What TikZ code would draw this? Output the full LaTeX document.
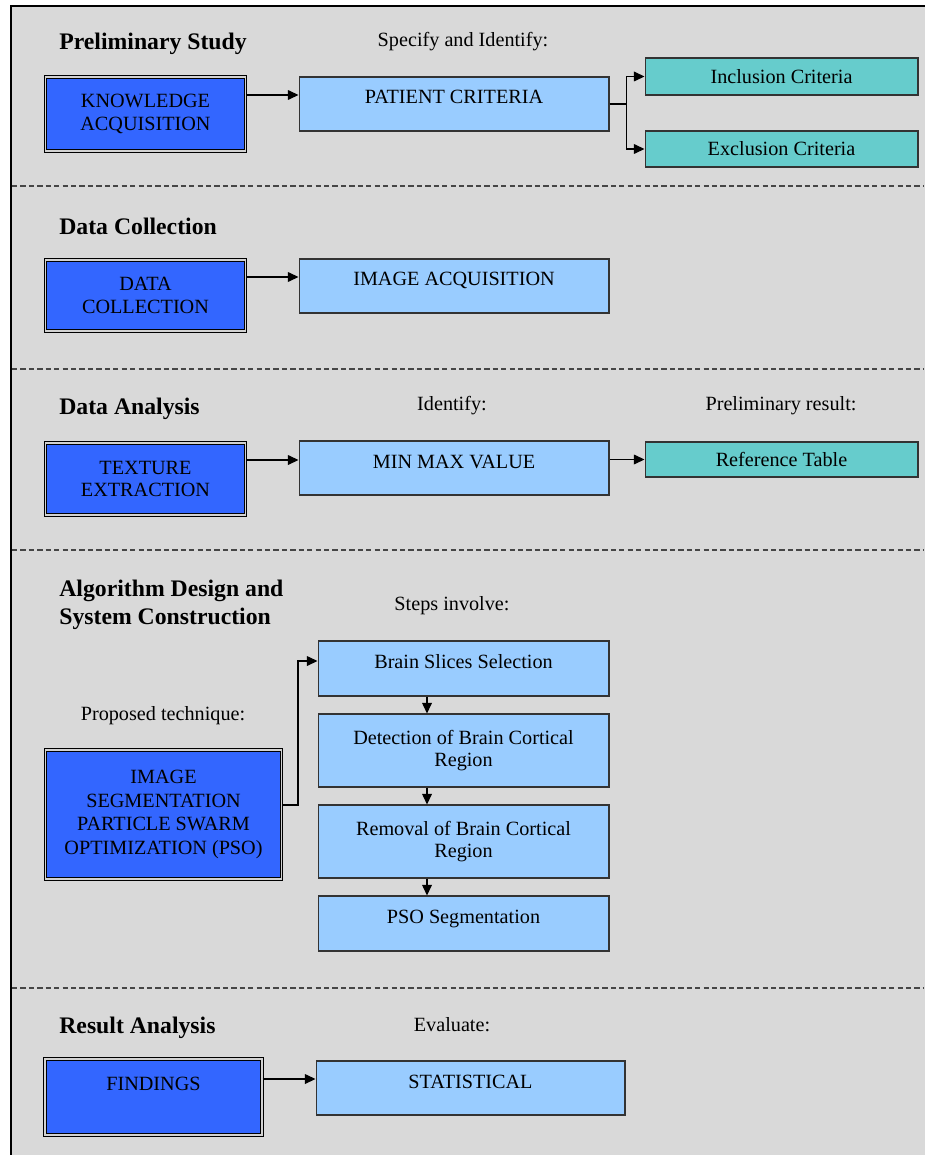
\documentclass[tikz,border=0pt]{standalone}
\usepackage{fontspec}
\setmainfont{Liberation Serif}
\usetikzlibrary{arrows.meta}

\definecolor{panelgrey}{HTML}{D9D9D9}
\definecolor{deepblue}{HTML}{3366FF}
\definecolor{paleblue}{HTML}{99CCFF}
\definecolor{tealbox}{HTML}{66CCCC}

\newcommand{\boxfont}{\fontsize{11.5}{13}\selectfont}
\newcommand{\headfont}{\fontsize{13.5}{16}\selectfont\bfseries}

\tikzset{
  mainbox/.style={draw=black, line width=0.7pt, double=gray!35, double distance=0.8pt,
    fill=deepblue, align=center, font=\boxfont, inner sep=0pt},
  lightbox/.style={draw=black!80, line width=0.6pt, fill=paleblue, align=center,
    font=\boxfont, inner sep=0pt},
  lightone/.style={lightbox, text height=0.54cm, text depth=0.54cm},
  greenbox/.style={draw=black!80, line width=0.6pt, fill=tealbox, font=\boxfont,
    inner sep=0pt, minimum width=5.46cm},
  head/.style={font=\headfont, anchor=west, inner sep=0pt, align=left},
  note/.style={font=\boxfont, inner sep=0pt},
  arr/.style={line width=0.7pt, -{Triangle[length=6pt,width=5.5pt]}},
  sep/.style={gray!55!black, line width=0.9pt, dash pattern=on 3pt off 1.8pt}
}

\begin{document}
\begin{tikzpicture}[x=0.02cm, y=-0.02cm]
  \useasboundingbox (0,0) rectangle (924,1155);
  \fill[panelgrey] (11,6) rectangle (940,1170);
  \draw[line width=1.2pt] (11,1170) -- (11,6) -- (940,6);

  % sections
  \draw[sep] (12,186) -- (924,186);
  \draw[sep] (12,369) -- (924,369);
  \draw[sep] (12,550) -- (924,550);
  \draw[sep] (12,988) -- (924,988);

  % preliminary study
  \node[head] (prelimhead) at (59,44) {Preliminary Study};
  \node[note] (specify) at (463,42) {Specify and Identify:};
  \node[mainbox, minimum width=4.0cm, minimum height=1.48cm] (know) at (145.5,114) {KNOWLEDGE\\ACQUISITION};
  \node[lightone, minimum width=6.2cm] (patient) at (454,104) {PATIENT CRITERIA};
  \node[greenbox, minimum height=0.74cm] (incl) at (781.5,76.5) {Inclusion Criteria};
  \node[greenbox, minimum height=0.72cm] (excl) at (781.5,149) {Exclusion Criteria};
  \draw[arr] ([yshift=0.38cm]know.east) coordinate (k1) -- (k1 -| patient.west);
  \draw[line width=0.7pt] (patient.east) -- ++(17,0) coordinate (fork);
  \draw[arr] (fork) |- (incl.west);
  \draw[arr] (fork) |- (excl.west);

  % data collection
  \node[head] (collhead) at (59,226) {Data Collection};
  \node[mainbox, minimum width=4.0cm, minimum height=1.42cm] (dcoll) at (145.5,295.5) {DATA\\COLLECTION};
  \node[lightone, minimum width=6.2cm] (imgacq) at (454,286) {IMAGE ACQUISITION};
  \draw[arr] ([yshift=0.37cm]dcoll.east) coordinate (k2) -- (k2 -| imgacq.west);

  % data analysis
  \node[head] (analhead) at (59,409) {Data Analysis};
  \node[note] (identify) at (452,406) {Identify:};
  \node[note] (prelres) at (781,406) {Preliminary result:};
  \node[mainbox, minimum width=4.0cm, minimum height=1.44cm] (texture) at (145.5,479) {TEXTURE\\EXTRACTION};
  \node[lightone, minimum width=6.2cm] (minmax) at (454,468) {MIN MAX VALUE};
  \node[greenbox, minimum height=0.70cm] (reftab) at (781.5,459.5) {Reference Table};
  \draw[arr] ([yshift=0.38cm]texture.east) coordinate (k3) -- (k3 -| minmax.west);
  \draw[arr] (minmax.east |- reftab) -- (reftab.west);

  % algorithm design
  \node[head] (algohead) at (59,605) {Algorithm Design and\\System Construction};
  \node[note] (steps) at (452,606) {Steps involve:};
  \node[note] (proposed) at (163,716) {Proposed technique:};
  \node[mainbox, minimum width=4.72cm, minimum height=2.58cm, font=\fontsize{11.5}{13.4}\selectfont] (pso) at (163.5,814.5)
    {IMAGE\\SEGMENTATION\\PARTICLE SWARM\\OPTIMIZATION (PSO)};
  \node[lightbox, minimum width=5.82cm, text height=0.55cm, text depth=0.55cm] (slices) at (463.5,668.5) {Brain Slices Selection};
  \node[lightbox, minimum width=5.82cm, minimum height=1.46cm] (detect) at (463.5,750.5) {Detection of Brain Cortical\\Region};
  \node[lightbox, minimum width=5.82cm, minimum height=1.46cm] (removal) at (463.5,841.5) {Removal of Brain Cortical\\Region};
  \node[lightbox, minimum width=5.82cm, text height=0.55cm, text depth=0.55cm] (psoseg) at (463.5,923.5) {PSO Segmentation};
  \draw[arr] ([yshift=0.19cm]pso.east) -- ++(16,0) |- ([yshift=0.15cm]slices.west);
  \draw[arr] ([xshift=-0.73cm]slices.south) -- ([xshift=-0.73cm]detect.north);
  \draw[arr] ([xshift=-0.73cm]detect.south) -- ([xshift=-0.73cm]removal.north);
  \draw[arr] ([xshift=-0.73cm]removal.south) -- ([xshift=-0.73cm]psoseg.north);

  % result analysis
  \node[head] (resulthead) at (59,1028) {Result Analysis};
  \node[note] (evaluate) at (452,1025) {Evaluate:};
  \node[mainbox, minimum width=4.34cm, text height=0.62cm, text depth=0.9cm] (findings) at (153.5,1097) {FINDINGS};
  \node[lightone, minimum width=6.18cm] (stat) at (470.5,1088) {STATISTICAL};
  \draw[arr] ([yshift=0.36cm]findings.east) coordinate (k4) -- (k4 -| stat.west);
\end{tikzpicture}
\end{document}
